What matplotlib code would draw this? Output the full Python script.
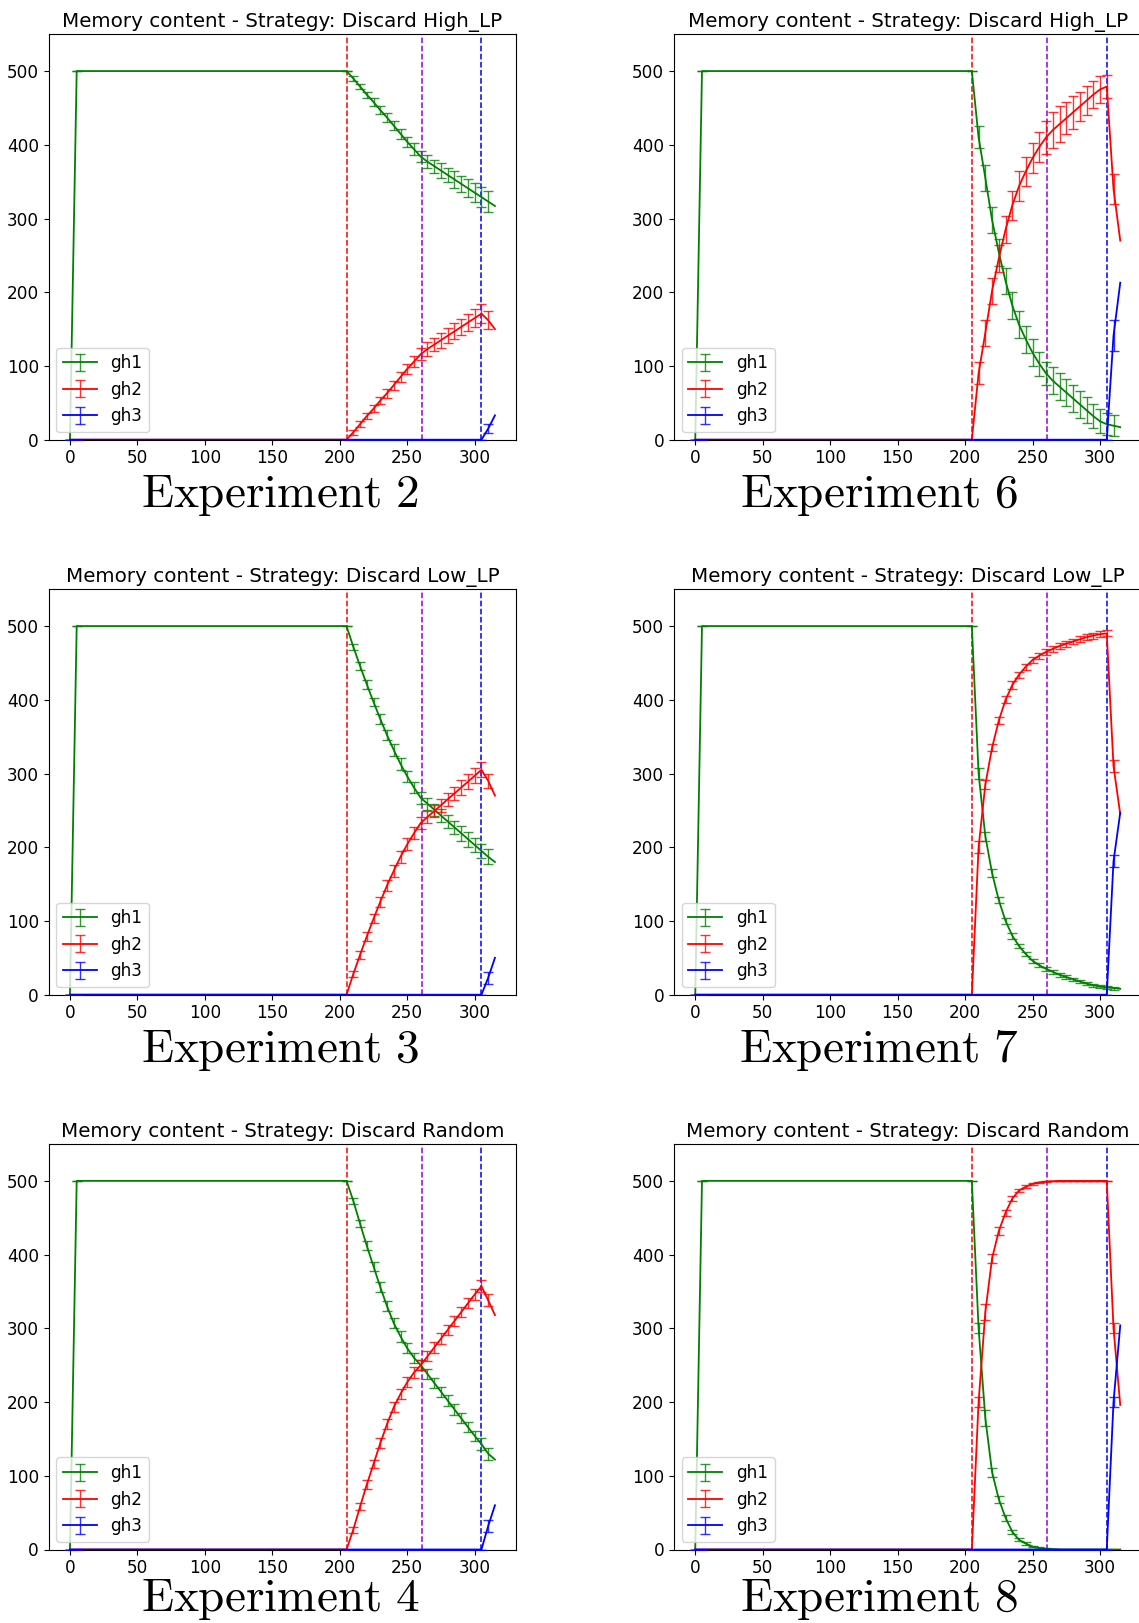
import numpy as np
import matplotlib
matplotlib.use("Agg")
import matplotlib.pyplot as plt

plt.rcParams['mathtext.fontset'] = 'cm'
plt.rcParams['font.family'] = ['DejaVu Sans']

# ---------------- data ----------------
x_head = [0, 5]
x_tail = [205, 210, 215, 220, 225, 230, 235, 240, 245, 250, 255, 260,
          265, 270, 275, 280, 285, 290, 295, 300, 305, 310, 315]
nan = float('nan')

# Experiment 2 (Discard High_LP)
e2_g = [500, 490, 479, 468, 458, 447, 437, 426, 415, 404, 394, 384, 377, 371, 365, 359, 353, 347, 341, 335, 329, 323, 317]
e2_r = [0, 10, 21, 32, 42, 53, 63, 74, 85, 96, 106, 116, 123, 129, 135, 141, 147, 153, 159, 165, 171, 162, 150]
e2_b = [0, 0, 0, 0, 0, 0, 0, 0, 0, 0, 0, 0, 0, 0, 0, 0, 0, 0, 0, 0, 0, 15, 33]
e2_ge = [0, 3, 4, 4, 5, 5, 6, 6, 7, 7, 8, 8, 9, 9, 10, 10, 11, 11, 12, 13, 14, 14, nan]
e2_re = [0, 3, 4, 4, 5, 5, 6, 6, 7, 7, 8, 8, 9, 9, 10, 10, 11, 11, 12, 12, 13, 12, nan]
e2_be = [0, 0, 0, 0, 0, 0, 0, 0, 0, 0, 0, 0, 0, 0, 0, 0, 0, 0, 0, 0, 0, 6, nan]

# Experiment 6 (Discard High_LP)
e6_g = [500, 410, 355, 298, 254, 215, 182, 156, 136, 118, 103, 90, 80, 72, 64, 56, 48, 40, 32, 25, 21, 19, 17]
e6_r = [0, 90, 145, 202, 246, 285, 318, 344, 364, 382, 397, 410, 420, 428, 436, 444, 452, 460, 468, 475, 479, 340, 270]
e6_b = [0, 0, 0, 0, 0, 0, 0, 0, 0, 0, 0, 0, 0, 0, 0, 0, 0, 0, 0, 0, 0, 141, 213]
e6_ge = [0, 15, 18, 18, 18, 18, 18, 18, 18, 18, 16, 16, 18, 18, 18, 18, 18, 18, 16, 16, 15, 14, nan]
e6_re = [0, 15, 18, 18, 18, 18, 20, 20, 20, 20, 20, 22, 24, 24, 22, 22, 20, 20, 18, 18, 16, 20, nan]
e6_be = [0, 0, 0, 0, 0, 0, 0, 0, 0, 0, 0, 0, 0, 0, 0, 0, 0, 0, 0, 0, 0, 21, nan]

# Experiment 3 (Discard Low_LP)
e3_g = [500, 472, 446, 421, 397, 374, 352, 332, 313, 296, 281, 267, 259, 251, 243, 235, 227, 219, 211, 203, 195, 187, 180]
e3_r = [0, 28, 54, 79, 103, 126, 148, 168, 187, 204, 219, 233, 241, 249, 257, 265, 273, 281, 289, 297, 305, 290, 270]
e3_b = [0, 0, 0, 0, 0, 0, 0, 0, 0, 0, 0, 0, 0, 0, 0, 0, 0, 0, 0, 0, 0, 23, 50]
e3_ge = [0, 4, 5, 6, 6, 7, 7, 8, 8, 8, 8, 8, 8, 8, 9, 9, 9, 10, 10, 10, 10, 10, nan]
e3_re = [0, 4, 5, 6, 6, 7, 7, 8, 8, 8, 8, 8, 8, 8, 9, 9, 9, 10, 10, 10, 10, 10, nan]
e3_be = [0, 0, 0, 0, 0, 0, 0, 0, 0, 0, 0, 0, 0, 0, 0, 0, 0, 0, 0, 0, 0, 8, nan]

# Experiment 7 (Discard Low_LP)
e7_g = [500, 300, 215, 165, 128, 100, 80, 66, 55, 46, 40, 35, 31, 27, 24, 21, 18, 15, 13, 11, 10, 9, 8]
e7_r = [0, 200, 285, 335, 372, 400, 420, 434, 445, 454, 460, 465, 469, 473, 476, 479, 482, 485, 487, 489, 490, 310, 245]
e7_b = [0, 0, 0, 0, 0, 0, 0, 0, 0, 0, 0, 0, 0, 0, 0, 0, 0, 0, 0, 0, 0, 181, 247]
e7_ge = [0, 8, 6, 5, 4, 4, 4, 3, 3, 3, 3, 3, 3, 3, 3, 2, 2, 2, 2, 2, 2, 2, nan]
e7_re = [0, 8, 6, 5, 5, 5, 5, 4, 4, 4, 4, 4, 4, 4, 4, 4, 4, 4, 4, 4, 4, 8, nan]
e7_be = [0, 0, 0, 0, 0, 0, 0, 0, 0, 0, 0, 0, 0, 0, 0, 0, 0, 0, 0, 0, 0, 8, nan]

# Experiment 4 (Discard Random)
e4_g = [500, 473, 442, 412, 384, 356, 330, 307, 289, 273, 260, 250, 238, 226, 214, 202, 190, 178, 166, 154, 143, 130, 122]
e4_r = [0, 27, 58, 88, 116, 144, 170, 193, 211, 227, 240, 250, 262, 274, 286, 298, 310, 322, 334, 346, 357, 338, 318]
e4_b = [0, 0, 0, 0, 0, 0, 0, 0, 0, 0, 0, 0, 0, 0, 0, 0, 0, 0, 0, 0, 0, 32, 60]
e4_ge = [0, 4, 5, 6, 6, 7, 7, 7, 7, 7, 7, 7, 7, 7, 7, 7, 7, 7, 7, 7, 8, 8, nan]
e4_re = [0, 4, 5, 6, 6, 7, 7, 7, 7, 7, 7, 7, 7, 7, 7, 7, 7, 7, 7, 7, 8, 8, nan]
e4_be = [0, 0, 0, 0, 0, 0, 0, 0, 0, 0, 0, 0, 0, 0, 0, 0, 0, 0, 0, 0, 0, 8, nan]

# Experiment 8 (Discard Random)
e8_g = [500, 300, 178, 105, 68, 43, 24, 13, 8, 4, 2, 1, 0.5, 0, 0, 0, 0, 0, 0, 0, 0, 0, 0]
e8_r = [0, 200, 322, 395, 432, 457, 476, 487, 492, 496, 498, 499, 499.5, 500, 500, 500, 500, 500, 500, 500, 500, 300, 196]
e8_b = [0, 0, 0, 0, 0, 0, 0, 0, 0, 0, 0, 0, 0, 0, 0, 0, 0, 0, 0, 0, 0, 200, 304]
e8_ge = [0, 7, 11, 6, 5, 4, 3, 2, 2, 1, 1, 1, 0, 0, 0, 0, 0, 0, 0, 0, 0, 0, nan]
e8_re = [0, 7, 11, 6, 5, 4, 3, 2, 2, 1, 1, 1, 0, 0, 0, 0, 0, 0, 0, 0, 0, 7, nan]
e8_be = [0, 0, 0, 0, 0, 0, 0, 0, 0, 0, 0, 0, 0, 0, 0, 0, 0, 0, 0, 0, 0, 7, nan]

titles = {"High": "Memory content - Strategy: Discard High_LP",
          "Low": "Memory content - Strategy: Discard Low_LP",
          "Rand": "Memory content - Strategy: Discard Random"}
vlines = [(205, 'red'), (261, 'darkviolet'), (305, 'blue')]
labels = ['gh1', 'gh2', 'gh3']
colors = ['green', 'red', 'blue']

panels = [
    (0, 0, "High", 2, (e2_g, e2_r, e2_b), (e2_ge, e2_re, e2_be)),
    (0, 1, "High", 6, (e6_g, e6_r, e6_b), (e6_ge, e6_re, e6_be)),
    (1, 0, "Low", 3, (e3_g, e3_r, e3_b), (e3_ge, e3_re, e3_be)),
    (1, 1, "Low", 7, (e7_g, e7_r, e7_b), (e7_ge, e7_re, e7_be)),
    (2, 0, "Rand", 4, (e4_g, e4_r, e4_b), (e4_ge, e4_re, e4_be)),
    (2, 1, "Rand", 8, (e8_g, e8_r, e8_b), (e8_ge, e8_re, e8_be)),
]

# ---------------- layout (pixels) ----------------
W, H = 1139, 1623
fig = plt.figure(figsize=(W / 100, H / 100), dpi=100)
col_left = [48.7, 674.0]
col_width = 467.5
row_top = [34.2, 589.2, 1144.0]
row_height = 405.5
caption_x = [280, 879]
caption_off = [67, 67, 62]

x = x_head + x_tail
for row, col, tkey, num, series, errs in panels:
    l = col_left[col] / W
    b = 1 - (row_top[row] + row_height) / H
    ax = fig.add_axes([l, b, col_width / W, row_height / H])
    head_vals = ([0, 500], [0, 0], [0, 0])
    for i in range(3):
        y = list(head_vals[i]) + list(series[i])
        e = [0, 0] + list(errs[i])
        c = matplotlib.colors.to_rgba(colors[i])
        ax.errorbar(x, y, yerr=e, color=colors[i], ecolor=(c[0], c[1], c[2], 0.8),
                    capsize=3.6, lw=1.3, elinewidth=1.0, label=labels[i], zorder=2 + i)
    for xv, c in vlines:
        ax.axvline(xv, color=c, ls='--', lw=1.1, zorder=1)
    ax.set_ylim(0, 550)
    ax.set_title(titles[tkey], fontsize=14.3, pad=5)
    ax.tick_params(labelsize=12.2)
    ax.legend(loc='lower left', fontsize=12.2, borderaxespad=0.45)
    fig.text(caption_x[col] / W, 1 - (row_top[row] + row_height + caption_off[row]) / H,
             r'$\mathrm{Experiment\ %d}$' % num, fontsize=34,
             ha='center', va='baseline')

fig.savefig("out.png", dpi=100)
